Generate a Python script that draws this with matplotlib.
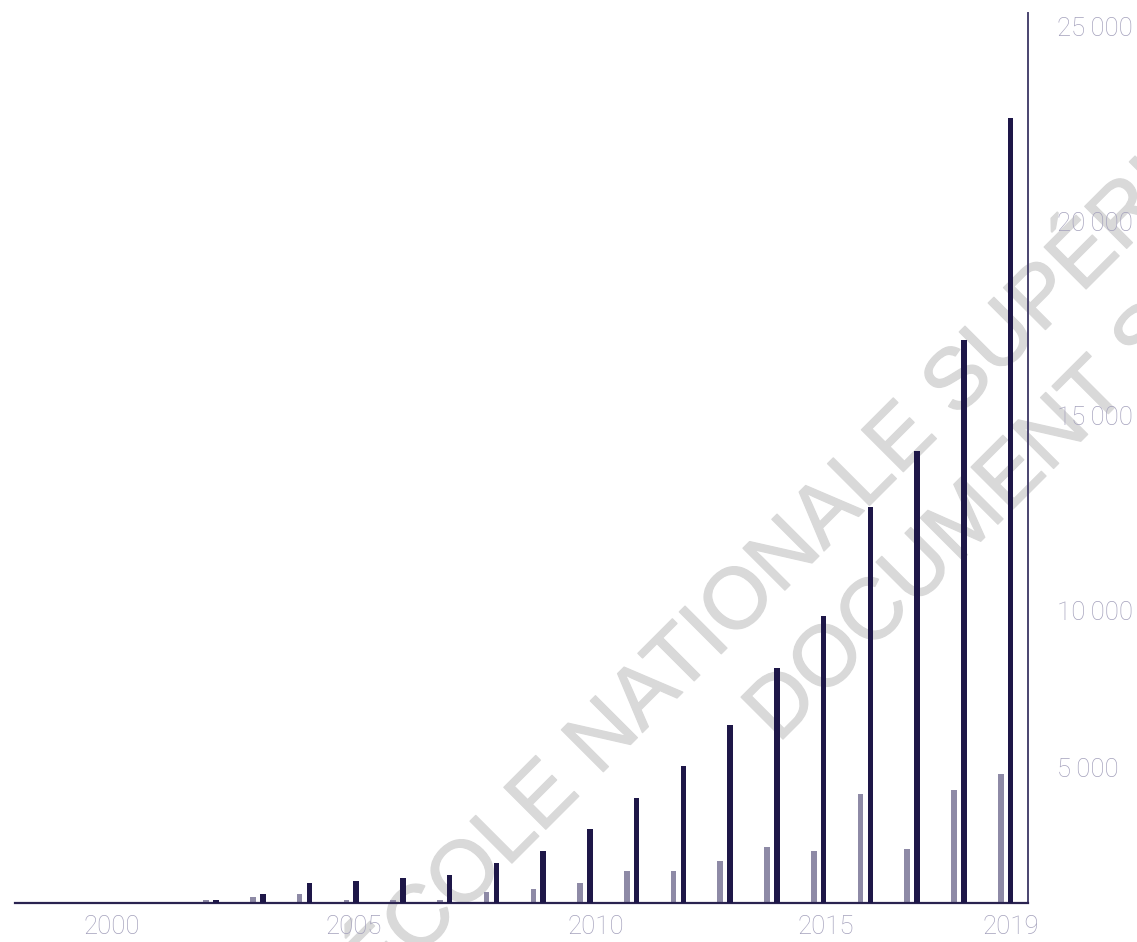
import matplotlib
matplotlib.use("Agg")
import matplotlib.pyplot as plt
import matplotlib.patheffects as pe

years = list(range(2000, 2020))
grey_values = [0, 0, 86, 180, 265, 86, 86, 86, 320, 400,
               570, 912, 912, 1198, 1597, 1483, 3108, 1540, 3222, 3679]
dark_values = [0, 0, 86, 265, 579, 636, 721, 807, 1149, 1483,
               2110, 2994, 3907, 5076, 6701, 8184, 11292, 12889, 16055, 22385]

x_tick_labels = ["2000", "2005", "2010", "2015", "2019"]
x_tick_pos = [1999.78, 2004.94, 2010.12, 2015.04, 2019.0]
y_tick_pos = [3878, 8355, 13902, 19442, 25000]
y_tick_labels = ["5\u2009000", "10\u2009000", "15\u2009000", "20\u2009000", "25\u2009000"]

DARK = "#1e1748"
GREY = "#8e8aa6"
LABEL = "#a4a1bc"
WATERMARK = "#d9d9d9"

fig = plt.figure(figsize=(11.37, 9.42), dpi=100)
ax = fig.add_axes([15 / 1137, 1 - 903 / 942, (1028 - 15) / 1137, (903 - 12.7) / 942])
ax.set_zorder(2)
ax.set_facecolor("none")

# watermark, sits behind the bars
thick = [pe.withStroke(linewidth=1.0, foreground=WATERMARK)]
fig.text(375 / 1137, 1 - 1000 / 942, "ÉCOLE NATIONALE SUPÉRIEURE", rotation=45,
         rotation_mode="anchor", ha="left", va="baseline", fontsize=62,
         family="Liberation Sans", color=WATERMARK, zorder=0, path_effects=thick)
fig.text(778 / 1137, 1 - 744 / 942, "DOCUMENT SOUMIS AU DROIT D'AUTEUR", rotation=45,
         rotation_mode="anchor", ha="left", va="baseline", fontsize=62,
         family="Liberation Sans", color=WATERMARK, zorder=0, path_effects=thick)

w = 0.12
ax.bar([y - 0.21 for y in years], grey_values, width=w, color=GREY, zorder=2)
ax.bar(years, dark_values, width=w, color=DARK, zorder=3)

ax.set_xlim(1997.70, 2019.374)
ax.set_ylim(0, 25388)

for s in ["left", "top"]:
    ax.spines[s].set_visible(False)
ax.spines["bottom"].set_color("#2a2350")
ax.spines["bottom"].set_linewidth(1.6)
ax.spines["right"].set_color("#4a4470")
ax.spines["right"].set_linewidth(1.4)

ax.yaxis.tick_right()
ax.set_yticks(y_tick_pos)
ax.set_yticklabels(y_tick_labels)
ax.set_xticks(x_tick_pos)
ax.set_xticklabels(x_tick_labels)
ax.tick_params(axis="y", length=0, pad=21, labelcolor=LABEL, labelsize=18.5)
ax.tick_params(axis="x", length=0, pad=9, labelcolor=LABEL, labelsize=18.5)
for lab in ax.get_xticklabels() + ax.get_yticklabels():
    lab.set_family(["Roboto", "DejaVu Sans"])
    lab.set_fontweight("light")

fig.savefig("out.png", dpi=100)
